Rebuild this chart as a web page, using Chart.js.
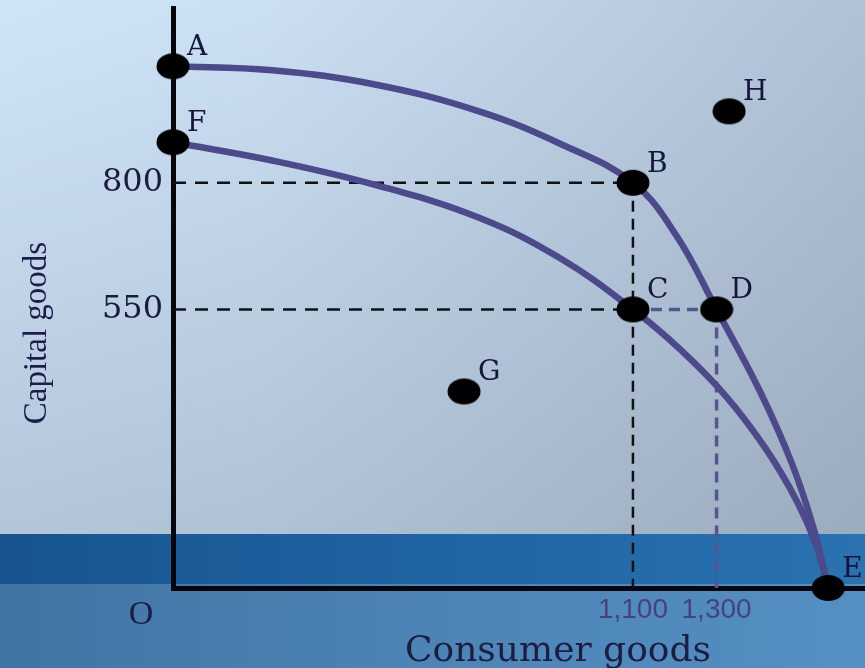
<!DOCTYPE html>
<html>
<head>
<meta charset="utf-8">
<script src="https://cdn.jsdelivr.net/npm/chart.js@4.4.0/dist/chart.umd.min.js"></script>
<style>
  html, body { margin: 0; padding: 0; background: #ffffff; }
  #wrap { width: 865px; height: 668px; }
</style>
</head>
<body>
<div id="wrap"><canvas id="c" width="865" height="668"></canvas></div>
<script>
// ---- data ----
const pointNames = ['A', 'B', 'C', 'D', 'E', 'F', 'G', 'H'];
const pointX = [0, 1100, 1100, 1300, 1567, 0, 696, 1330];
const pointY = [1030, 800, 550, 550, 0, 880, 388, 941];

const outerX = [0, 237, 483, 732, 926, 1100, 1206, 1300, 1404, 1481, 1533, 1567];
const outerY = [1030, 1022, 994, 941, 877, 800, 693, 550, 388, 244, 115, 0];

const innerX = [0, 237, 483, 732, 926, 1100, 1213, 1321, 1416, 1493, 1538, 1567];
const innerY = [880, 844, 796, 731, 651, 550, 471, 380, 277, 170, 85, 0];

const xTickValues = [1100, 1300];
const xTickLabels = ['1,100', '1,300'];
const yTickValues = [550, 800];
const yTickLabels = ['550', '800'];

const xTitle = 'Consumer goods';
const yTitle = 'Capital goods';
const originLabel = 'O';

// ---- helpers ----
const toXY = (xs, ys) => xs.map((x, i) => ({ x: x, y: ys[i] }));
const P = name => { const i = pointNames.indexOf(name); return { x: pointX[i], y: pointY[i] }; };

const dot = document.createElement('canvas');
dot.width = 34; dot.height = 28;
(function () {
  const g = dot.getContext('2d');
  g.fillStyle = '#000000';
  g.beginPath();
  g.ellipse(17, 14, 16.5, 13, 0, 0, Math.PI * 2);
  g.fill();
})();

const B = P('B'), C = P('C'), D = P('D');
const blackDash = '#111111';
const purpleDash = '#56558f';
const curveColor = '#4c4a8b';

function guide(points, color, width, dash) {
  return {
    type: 'scatter', data: points, showLine: true, borderColor: color,
    borderWidth: width, borderDash: dash, pointRadius: 0, fill: false,
    clip: false, order: 3, tension: 0
  };
}

const bgPlugin = {
  id: 'bg',
  beforeDraw(chart) {
    const ctx = chart.ctx;
    const W = chart.width, H = chart.height;
    ctx.save();
    let g = ctx.createLinearGradient(0, 0, 0, 534);
    g.addColorStop(0, '#d0e4f8');
    g.addColorStop(1, '#b3c6d9');
    ctx.fillStyle = g;
    ctx.fillRect(0, 0, W, 534);
    g = ctx.createLinearGradient(0, 0, W, 0);
    g.addColorStop(0, 'rgba(90,100,120,0)');
    g.addColorStop(0.3, 'rgba(90,100,120,0.04)');
    g.addColorStop(1, 'rgba(90,100,120,0.27)');
    ctx.fillStyle = g;
    ctx.fillRect(0, 0, W, 534);
    g = ctx.createLinearGradient(0, 0, W, 0);
    g.addColorStop(0, '#17548f');
    g.addColorStop(0.5, '#1f64a3');
    g.addColorStop(1, '#2a72b0');
    ctx.fillStyle = g;
    ctx.fillRect(0, 534, W, 50);
    g = ctx.createLinearGradient(0, 0, W, 0);
    g.addColorStop(0, '#4274a3');
    g.addColorStop(0.5, '#4d84b6');
    g.addColorStop(1, '#548fc3');
    ctx.fillStyle = g;
    ctx.fillRect(0, 584, W, H - 584);
    ctx.restore();
  }
};

const textPlugin = {
  id: 'texts',
  afterDraw(chart) {
    const ctx = chart.ctx;
    const xs = chart.scales.x, ys = chart.scales.y;
    ctx.save();
    // point labels
    ctx.fillStyle = '#15153d';
    ctx.font = '28px "DejaVu Serif"';
    ctx.textAlign = 'left';
    ctx.textBaseline = 'alphabetic';
    pointNames.forEach((n, i) => {
      const px = xs.getPixelForValue(pointX[i]);
      const py = ys.getPixelForValue(pointY[i]);
      ctx.fillText(n, px + 14, py - 11);
    });
    // origin label
    ctx.fillStyle = '#1d1d45';
    ctx.font = '34px "Liberation Serif"';
    ctx.textAlign = 'center';
    ctx.textBaseline = 'middle';
    ctx.fillText(originLabel, xs.getPixelForValue(0) - 32, 615);
    // x title
    ctx.fillStyle = '#1d1d40';
    ctx.font = '36px "DejaVu Serif"';
    ctx.textAlign = 'center';
    ctx.textBaseline = 'alphabetic';
    ctx.fillText(xTitle, 558, 661);
    // y title
    ctx.translate(37, 333);
    ctx.rotate(-Math.PI / 2);
    ctx.fillStyle = '#1d1d4d';
    ctx.font = '33px "Liberation Serif"';
    ctx.textAlign = 'center';
    ctx.textBaseline = 'middle';
    ctx.fillText(yTitle, 0, 0);
    ctx.restore();
  }
};

new Chart(document.getElementById('c'), {
  type: 'scatter',
  data: {
    datasets: [
      {
        data: pointNames.map((n, i) => ({ x: pointX[i], y: pointY[i] })),
        pointStyle: dot, pointRadius: 14, showLine: false,
        clip: false, order: 0
      },
      {
        data: toXY(outerX, outerY), showLine: true, borderColor: curveColor,
        borderWidth: 6.5, pointRadius: 0, tension: 0.4,
        clip: false, order: 1
      },
      {
        data: toXY(innerX, innerY), showLine: true, borderColor: curveColor,
        borderWidth: 6.5, pointRadius: 0, tension: 0.4,
        clip: false, order: 1
      },
      guide([{ x: 0, y: B.y }, { x: B.x, y: B.y }], blackDash, 2.5, [13, 9]),
      guide([{ x: B.x, y: B.y }, { x: B.x, y: 0 }], blackDash, 2.5, [11, 7]),
      guide([{ x: 0, y: C.y }, { x: C.x, y: C.y }], blackDash, 2.5, [13, 9]),
      guide([{ x: C.x, y: C.y }, { x: D.x, y: D.y }], purpleDash, 3.5, [11, 7]),
      guide([{ x: D.x, y: D.y }, { x: D.x, y: 0 }], purpleDash, 3.5, [11, 7])
    ]
  },
  options: {
    responsive: false,
    animation: false,
    events: [],
    layout: { autoPadding: false, padding: { top: 8, right: 0, left: 0, bottom: 0 } },
    plugins: { legend: { display: false }, tooltip: { enabled: false } },
    scales: {
      x: {
        type: 'linear', min: 0, max: 1655,
        grid: { display: false, drawTicks: false },
        border: { display: true, color: '#06060c', width: 5 },
        afterBuildTicks: s => { s.ticks = xTickValues.map(v => ({ value: v })); },
        afterFit: s => { s.height = 80; s.paddingLeft = 0; s.paddingRight = 0; },
        ticks: {
          padding: 5, color: '#45437a',
          font: { family: '"Liberation Sans"', size: 28 },
          callback: v => xTickLabels[xTickValues.indexOf(v)],
          maxRotation: 0, autoSkip: false
        }
      },
      y: {
        type: 'linear', min: 0, max: 1145,
        grid: { display: false, drawTicks: false },
        border: { display: true, color: '#06060c', width: 5 },
        afterBuildTicks: s => { s.ticks = yTickValues.map(v => ({ value: v })); },
        afterFit: s => { s.width = 173; s.paddingTop = 0; s.paddingBottom = 0; },
        ticks: {
          padding: 10, color: '#1b1b40',
          font: { family: '"DejaVu Serif"', size: 32 },
          callback: v => yTickLabels[yTickValues.indexOf(v)],
          autoSkip: false
        }
      }
    }
  },
  plugins: [bgPlugin, textPlugin]
});
</script>
</body>
</html>
